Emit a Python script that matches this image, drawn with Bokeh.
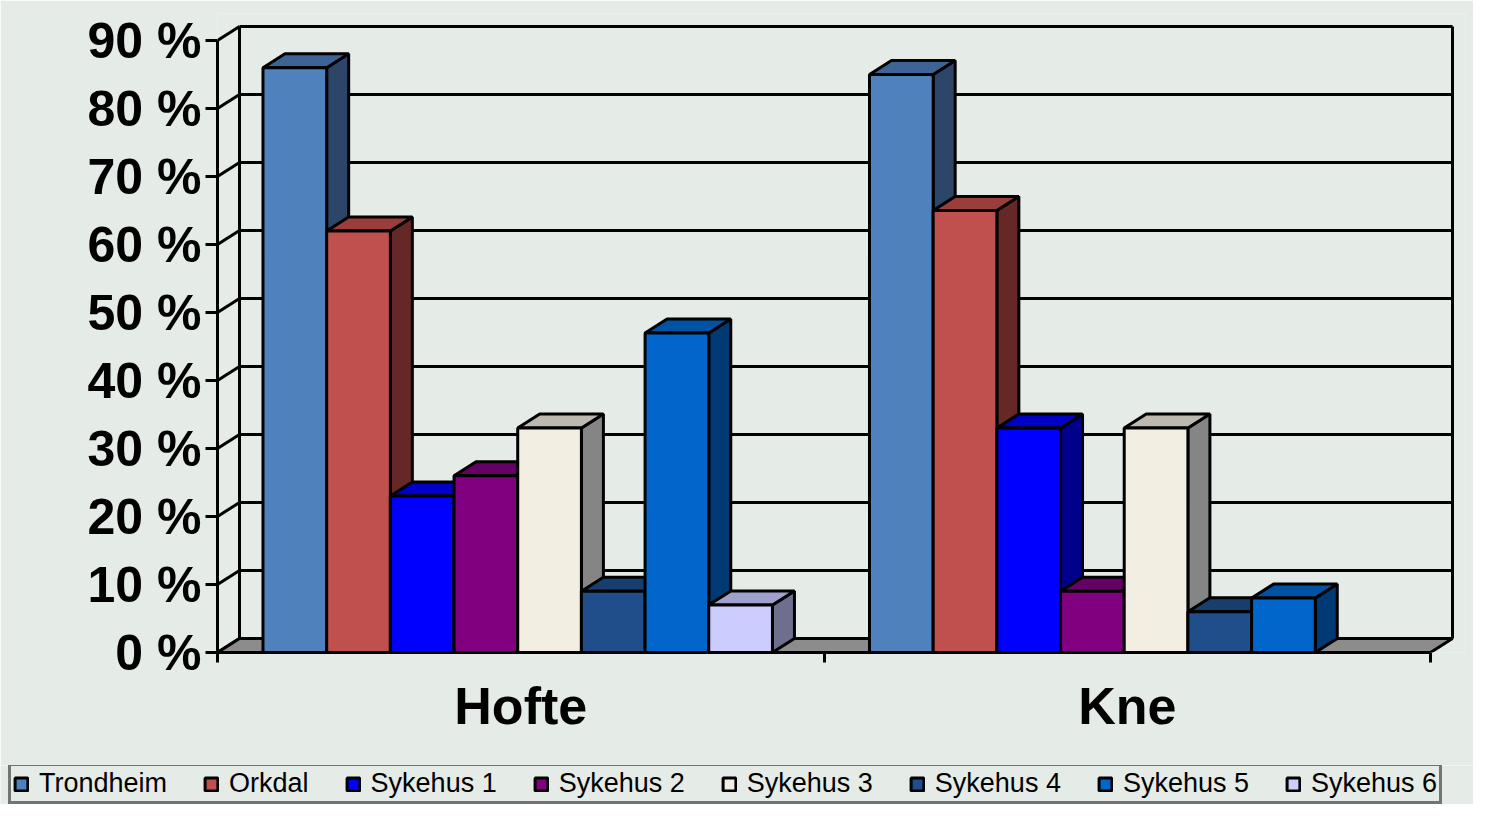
from bokeh.plotting import figure
from bokeh.models import FixedTicker, Legend, LegendItem, Range1d, LinearAxis
from bokeh.embed import file_html
from bokeh.resources import INLINE

# ---------------- data ----------------
categories = ["Hofte", "Kne"]
series = ["Trondheim", "Orkdal", "Sykehus 1", "Sykehus 2",
          "Sykehus 3", "Sykehus 4", "Sykehus 5", "Sykehus 6"]
hofte = [86, 62, 23, 26, 33, 9, 47, 7]
kne = [85, 65, 33, 9, 33, 6, 8, 0]
y_ticks = [0, 10, 20, 30, 40, 50, 60, 70, 80, 90]
y_tick_labels = ["0 %", "10 %", "20 %", "30 %", "40 %", "50 %", "60 %", "70 %", "80 %", "90 %"]

front_colors = ["#4F81BD", "#C0504D", "#0000FF", "#800080", "#F2EEE2", "#1F4E8A", "#0066CC", "#CCCCFF"]
top_colors = ["#3E6496", "#9A3D3B", "#0000C8", "#650065", "#BDB9AE", "#183E6E", "#0052A3", "#A0A0CC"]
side_colors = ["#2B4669", "#662827", "#00008C", "#470047", "#858585", "#112C4F", "#003A75", "#6E6E8E"]

BG = "#E5EBE6"
FONT = "Liberation Sans"

# ---------------- geometry (pixel scale helpers) ----------------
W = 1473
H1, H2 = 765, 39
left_b, right_b, top_b = 217, 8, 13
bottom_b = H1 - 652
frame_w = W - left_b - right_b
frame_h = H1 - top_b - bottom_b
px_per_x = 606.5
px_per_y = 6.8
dx = 22 / px_per_x          # depth offset in data units
dy = 14 / px_per_y
bar_off = 0.075
bar_w = 0.105
ncat = len(categories)
ymax = y_ticks[-1]

p = figure(width=W, height=H1, output_backend="svg", toolbar_location=None,
           x_range=Range1d(0, frame_w / px_per_x), y_range=Range1d(0, frame_h / px_per_y),
           min_border_left=left_b, min_border_right=right_b,
           min_border_top=top_b, min_border_bottom=bottom_b,
           background_fill_color=BG, border_fill_color=BG)
p.outline_line_color = None
p.grid.visible = False
p.xaxis.visible = False
p.yaxis.visible = False

# side wall connectors
p.segment(x0=[0] * len(y_ticks), y0=y_ticks, x1=[dx] * len(y_ticks),
          y1=[t + dy for t in y_ticks], line_color="black", line_width=3)
# back wall gridlines
p.segment(x0=[dx] * len(y_ticks), y0=[t + dy for t in y_ticks],
          x1=[ncat + dx] * len(y_ticks), y1=[t + dy for t in y_ticks],
          line_color="black", line_width=3)
# back wall vertical edges
p.segment(x0=[dx, ncat + dx], y0=[dy, dy], x1=[dx, ncat + dx], y1=[ymax + dy, ymax + dy],
          line_color="black", line_width=3)
# floor
p.patch(x=[0, ncat, ncat + dx, dx], y=[0, 0, dy, dy], fill_color="#8C8C8C",
        line_color="black", line_width=3)

values = [hofte, kne]
for i, name in enumerate(series):
    fx0, fx1, ftop = [], [], []
    txs, tys, sxs, sys_ = [], [], [], []
    for g in range(ncat):
        v = values[g][i]
        if v <= 0:
            continue
        x0 = g + bar_off + i * bar_w
        x1 = x0 + bar_w
        fx0.append(x0); fx1.append(x1); ftop.append(v)
        txs.append([x0, x1, x1 + dx, x0 + dx]); tys.append([v, v, v + dy, v + dy])
        sxs.append([x1, x1 + dx, x1 + dx, x1]); sys_.append([0, dy, v + dy, v])
    p.patches(xs=sxs, ys=sys_, fill_color=side_colors[i], line_color="black", line_width=3)
    p.patches(xs=txs, ys=tys, fill_color=top_colors[i], line_color="black", line_width=3)
    p.quad(left=fx0, right=fx1, bottom=[0] * len(fx0), top=ftop,
           fill_color=front_colors[i], line_color="black", line_width=3)

# y axis (front)
yax = LinearAxis(ticker=FixedTicker(ticks=y_ticks),
                 major_label_overrides={t: l for t, l in zip(y_ticks, y_tick_labels)})
yax.bounds = (0, ymax)
yax.axis_line_width = 3
yax.major_tick_line_width = 3
yax.major_tick_out = 12
yax.major_tick_in = 0
yax.minor_tick_out = 0
yax.minor_tick_in = 0
yax.major_label_standoff = 4
yax.major_label_text_font = FONT
yax.major_label_text_font_style = "bold"
yax.major_label_text_font_size = "50px"
yax.major_label_text_color = "black"
p.add_layout(yax, "left")

# x axis (front floor edge)
xax = LinearAxis(ticker=FixedTicker(ticks=[g + 0.5 for g in range(ncat)],
                                    minor_ticks=list(range(ncat + 1))),
                 major_label_overrides={g + 0.5: c for g, c in enumerate(categories)})
xax.bounds = (0, ncat)
xax.axis_line_width = 3
xax.major_tick_out = 0
xax.major_tick_in = 0
xax.minor_tick_out = 10
xax.minor_tick_in = 0
xax.minor_tick_line_width = 3
xax.major_label_standoff = 14
xax.major_label_text_font = FONT
xax.major_label_text_font_style = "bold"
xax.major_label_text_font_size = "52px"
xax.major_label_text_color = "black"
p.add_layout(xax, "below")

# ---------------- legend strip (separate root, full-width frame) ----------------
p2 = figure(width=W, height=H2, output_backend="svg", toolbar_location=None,
            x_range=Range1d(0, 1), y_range=Range1d(0, 1),
            min_border_left=0, min_border_right=0, min_border_top=0, min_border_bottom=0,
            background_fill_color=BG, border_fill_color=BG)
p2.outline_line_color = None
p2.grid.visible = False
p2.xaxis.visible = False
p2.yaxis.visible = False
# legend swatches: renderers kept outside the visible range
legend_renderers = [p2.quad(left=[5], right=[6], bottom=[5], top=[6], fill_color=c,
                            line_color="black", line_width=3) for c in front_colors]

legend = Legend(items=[LegendItem(label=s, renderers=[r]) for s, r in zip(series, legend_renderers)],
                orientation="horizontal", location=(8, 0))
legend.margin = 0
legend.padding = 2
legend.spacing = 36
legend.label_standoff = 10
legend.glyph_width = 16
legend.glyph_height = 16
legend.label_text_font = FONT
legend.label_text_font_size = "27px"
legend.label_text_color = "black"
legend.border_line_color = "black"
legend.border_line_width = 3
legend.background_fill_color = BG
legend.background_fill_alpha = 1
p2.add_layout(legend, "center")

open("out.html", "w").write(file_html([p, p2], INLINE))
